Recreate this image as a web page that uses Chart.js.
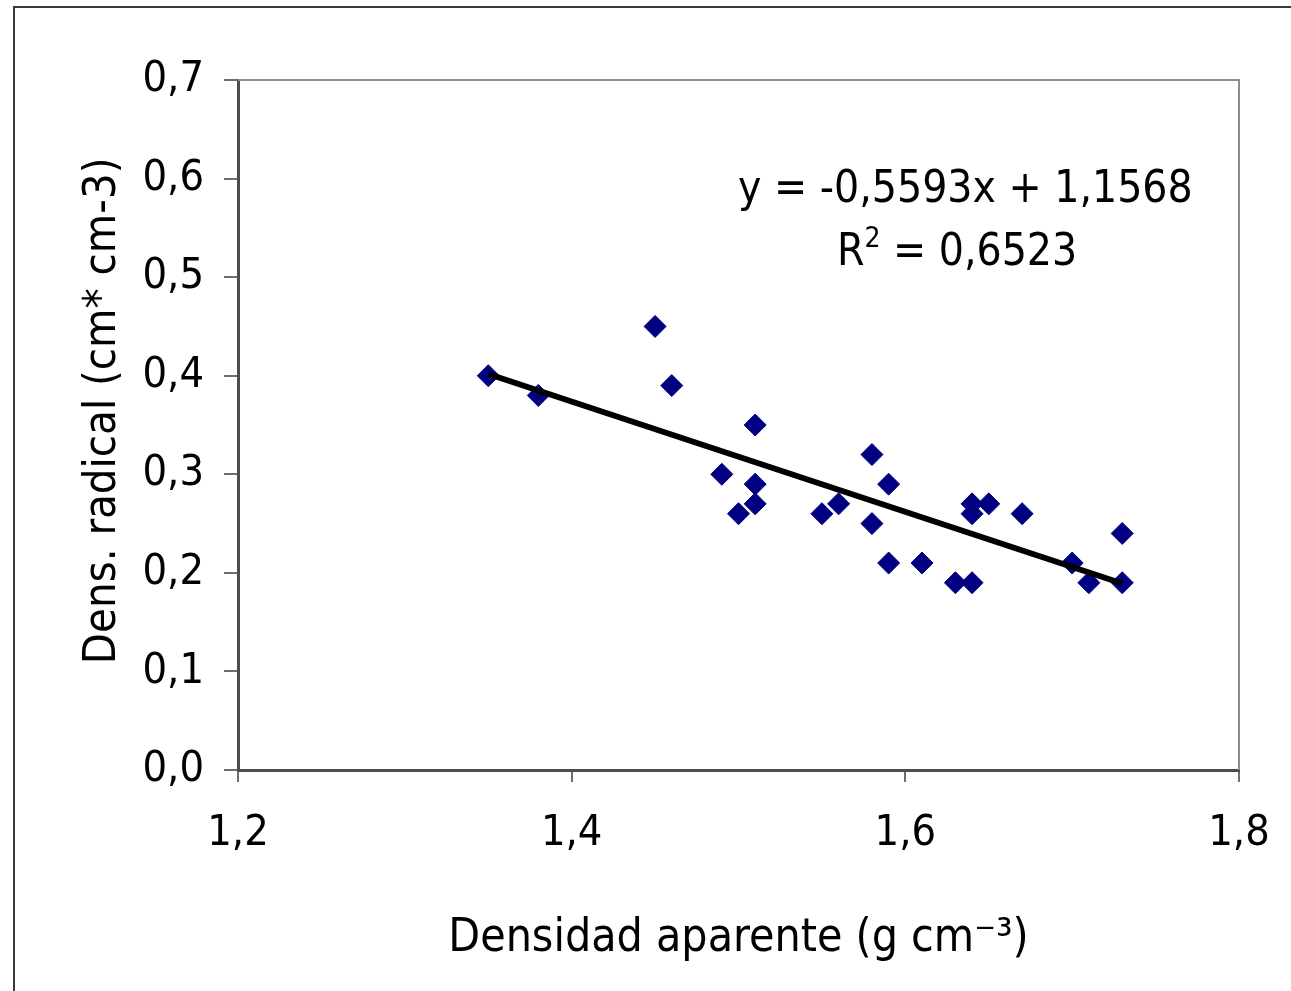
<!DOCTYPE html>
<html>
<head>
<meta charset="utf-8">
<script src="https://cdn.jsdelivr.net/npm/chart.js@4.4.1/dist/chart.umd.min.js"></script>
<style>
    html, body { margin: 0; padding: 0; background: #fff; overflow: hidden; }
    #frame {
        position: absolute; left: 13px; top: 6px;
        width: 1400px; height: 1100px;
        border: 2px solid #3a3a3a;
    }
    #wrap { position: absolute; left: 0; top: 0; width: 1291px; height: 991px; }
</style>
</head>
<body>
<div id="frame"></div>
<div id="wrap"><canvas id="chart" width="1291" height="991"></canvas></div>
<script>
// Bulk density vs root density
const densidadAparente = [1.35, 1.38, 1.45, 1.46, 1.49, 1.50, 1.51, 1.51, 1.51, 1.55, 1.56, 1.58, 1.58,
                          1.59, 1.59, 1.61, 1.63, 1.64, 1.64, 1.64, 1.65, 1.67, 1.70, 1.71, 1.73, 1.73];
const densRadical = [0.40, 0.38, 0.45, 0.39, 0.30, 0.26, 0.35, 0.29, 0.27, 0.26, 0.27, 0.32, 0.25,
                     0.29, 0.21, 0.21, 0.19, 0.27, 0.26, 0.19, 0.27, 0.26, 0.21, 0.19, 0.24, 0.19];

// linear trendline as stated on the chart
const slope = -0.5593;
const intercept = 1.1568;
const r2 = 0.6523;

const xTicks = [1.2, 1.4, 1.6, 1.8];
const yTicks = [0.0, 0.1, 0.2, 0.3, 0.4, 0.5, 0.6, 0.7];

const FONT = "'DejaVu Sans Condensed', 'DejaVu Sans', sans-serif";

const points = densidadAparente.map((x, i) => ({ x: x, y: densRadical[i] }));
const xMin = Math.min(...densidadAparente);
const xMax = Math.max(...densidadAparente);
const trend = [xMin, xMax].map(x => ({ x: x, y: slope * x + intercept }));

const fmt = (v, d) => v.toFixed(d).replace('.', ',');

// top and right edges of the plot frame, plus the equation text
const framePlugin = {
    id: 'frame',
    beforeDatasetsDraw(chart) {
        const { ctx, chartArea: a } = chart;
        ctx.save();
        ctx.strokeStyle = '#8c8c8c';
        ctx.lineWidth = 2;
        ctx.beginPath();
        ctx.moveTo(a.left, a.top);
        ctx.lineTo(a.right, a.top);
        ctx.lineTo(a.right, a.bottom);
        ctx.stroke();
        ctx.restore();
    },
    afterDraw(chart) {
        const { ctx, scales } = chart;
        const big = '44px ' + FONT;
        const small = '28px ' + FONT;
        ctx.save();
        ctx.fillStyle = '#000';
        ctx.textBaseline = 'alphabetic';

        ctx.font = big;
        const line1 = 'y = ' + fmt(slope, 4) + 'x + ' + fmt(intercept, 4);
        ctx.textAlign = 'center';
        ctx.fillText(line1, scales.x.getPixelForValue(1.636), scales.y.getPixelForValue(0.576));

        // R² with a raised small 2
        const cx2 = scales.x.getPixelForValue(1.631);
        const base2 = scales.y.getPixelForValue(0.512);
        const rest = ' = ' + fmt(r2, 4);
        const wR = ctx.measureText('R').width;
        const wRest = ctx.measureText(rest).width;
        ctx.font = small;
        const wSup = ctx.measureText('2').width;
        const start = cx2 - (wR + wSup + wRest) / 2;
        ctx.textAlign = 'left';
        ctx.font = big;
        ctx.fillText('R', start, base2);
        ctx.font = small;
        ctx.fillText('2', start + wR, base2 - 18);
        ctx.font = big;
        ctx.fillText(rest, start + wR + wSup, base2);
        ctx.restore();
    }
};

new Chart(document.getElementById('chart').getContext('2d'), {
    type: 'scatter',
    data: {
        datasets: [
            {
                label: 'Dens. radical',
                data: points,
                pointStyle: 'rectRot',
                pointRadius: 11,
                pointHoverRadius: 11,
                pointBackgroundColor: '#000080',
                pointBorderColor: '#000080',
                pointBorderWidth: 1,
                order: 2
            },
            {
                label: 'Lineal',
                type: 'line',
                data: trend,
                borderColor: '#000',
                borderWidth: 6,
                pointRadius: 0,
                fill: false,
                order: 1
            }
        ]
    },
    options: {
        responsive: false,
        animation: false,
        layout: { padding: { left: 0, top: 80, right: 52, bottom: 0 } },
        plugins: {
            legend: { display: false },
            tooltip: { enabled: false }
        },
        scales: {
            x: {
                type: 'linear',
                min: 1.2,
                max: 1.8,
                afterBuildTicks: scale => { scale.ticks = xTicks.map(v => ({ value: v })); },
                afterFit: scale => {
                    scale.height = 221;
                    scale.paddingLeft = 0;
                    scale.paddingRight = 0;
                },
                border: { display: true, color: '#4d4d4d', width: 3 },
                grid: { display: true, drawOnChartArea: false, drawTicks: true, tickLength: 12, color: '#6e6e6e', lineWidth: 2 },
                ticks: {
                    color: '#000',
                    padding: 26,
                    maxRotation: 0,
                    font: { family: FONT, size: 43 },
                    callback: v => fmt(v, 1)
                },
                title: {
                    display: true,
                    text: 'Densidad aparente (g cm⁻³)',
                    color: '#000',
                    font: { family: FONT, size: 46 },
                    padding: { top: 0, bottom: 24 }
                }
            },
            y: {
                type: 'linear',
                min: 0,
                max: 0.7,
                afterBuildTicks: scale => { scale.ticks = yTicks.map(v => ({ value: v })); },
                afterFit: scale => {
                    scale.width = 238;
                    scale.paddingTop = 0;
                    scale.paddingBottom = 0;
                },
                border: { display: true, color: '#4d4d4d', width: 3 },
                grid: { display: true, drawOnChartArea: false, drawTicks: true, tickLength: 14, color: '#6e6e6e', lineWidth: 2 },
                ticks: {
                    color: '#000',
                    padding: 20,
                    font: { family: FONT, size: 43 },
                    callback: v => fmt(v, 1)
                },
                title: {
                    display: true,
                    // leading spaces nudge the rotated title up a little
                    text: '\u2002\u2009Dens. radical (cm* cm-3)',
                    color: '#000',
                    font: { family: FONT, size: 45 },
                    padding: { top: 76, bottom: 0 }
                }
            }
        }
    },
    plugins: [framePlugin]
});
</script>
</body>
</html>
